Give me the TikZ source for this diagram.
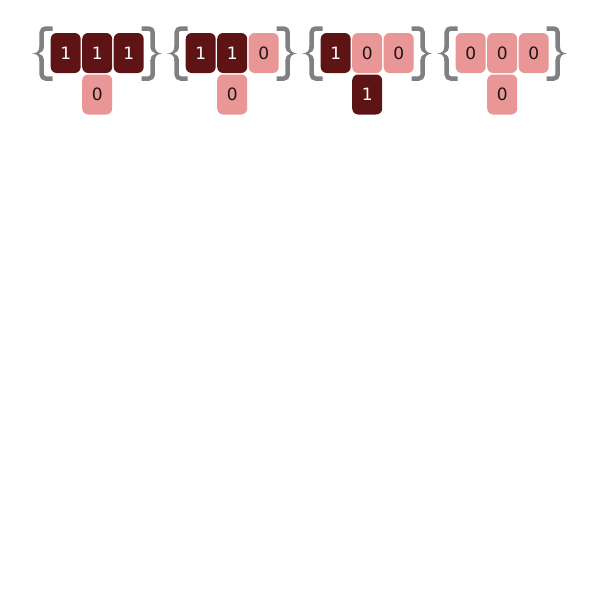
\documentclass[tikz,border=0pt]{standalone}
\usepackage{fontspec}
\setmainfont{DejaVu Sans}
\definecolor{darkbit}{RGB}{94,20,20}
\definecolor{pinkbit}{RGB}{232,150,150}
\definecolor{bracegray}{RGB}{128,128,128}
\definecolor{zerotext}{RGB}{30,20,20}
\tikzset{
  bitbox/.style={minimum width=30pt, minimum height=40pt, inner sep=0pt,
    rounded corners=6pt, font=\fontsize{17}{17}\selectfont},
  onebit/.style={bitbox, fill=darkbit, text=white},
  zerobit/.style={bitbox, fill=pinkbit, text=zerotext},
  lbracepic/.pic={
    \fill[bracegray] (-11.25,46) .. controls (-11.25,51.5) and (-14,53.2) .. (-18.5,53.5)
      .. controls (-14,53.8) and (-11.25,55.5) .. (-11.25,61) -- (-6.75,61)
      .. controls (-6.75,56.5) and (-9,54.2) .. (-12,53.5)
      .. controls (-9,52.8) and (-6.75,50.5) .. (-6.75,46) -- cycle;
    \draw[bracegray, line width=4.5pt, rounded corners=4pt] (2,28.5) -- (-9,28.5) -- (-9,47);
    \draw[bracegray, line width=4.5pt, rounded corners=4pt] (-9,60) -- (-9,78.5) -- (2,78.5);
  },
  rbracepic/.pic={
    \fill[bracegray] (11.25,46) .. controls (11.25,51.5) and (14,53.2) .. (18.5,53.5)
      .. controls (14,53.8) and (11.25,55.5) .. (11.25,61) -- (6.75,61)
      .. controls (6.75,56.5) and (9,54.2) .. (12,53.5)
      .. controls (9,52.8) and (6.75,50.5) .. (6.75,46) -- cycle;
    \draw[bracegray, line width=4.5pt, rounded corners=4pt] (-2,28.5) -- (9,28.5) -- (9,47);
    \draw[bracegray, line width=4.5pt, rounded corners=4pt] (9,60) -- (9,78.5) -- (-2,78.5);
  }
}
\begin{document}
\begin{tikzpicture}[x=1pt, y=-1pt]
\useasboundingbox (0,0) rectangle (600,600);
\fill[white] (0,0) rectangle (600,600);
% braces
\foreach \xo in {50.7,185.7,320.7,455.7}{
  \pic at (\xo,0) {lbracepic};
  \pic at (\xo+93,0) {rbracepic};
}
% group 1
\node[onebit]  (g1a) at (65.7,53) {1};
\node[onebit]  (g1b) at (97.2,53) {1};
\node[onebit]  (g1c) at (128.7,53) {1};
\node[zerobit] (g1d) at (97.2,94.5) {0};
% group 2
\node[onebit]  (g2a) at (200.7,53) {1};
\node[onebit]  (g2b) at (232.2,53) {1};
\node[zerobit] (g2c) at (263.7,53) {0};
\node[zerobit] (g2d) at (232.2,94.5) {0};
% group 3
\node[onebit]  (g3a) at (335.7,53) {1};
\node[zerobit] (g3b) at (367.2,53) {0};
\node[zerobit] (g3c) at (398.7,53) {0};
\node[onebit]  (g3d) at (367.2,94.5) {1};
% group 4
\node[zerobit] (g4a) at (470.7,53) {0};
\node[zerobit] (g4b) at (502.2,53) {0};
\node[zerobit] (g4c) at (533.7,53) {0};
\node[zerobit] (g4d) at (502.2,94.5) {0};
\end{tikzpicture}
\end{document}
